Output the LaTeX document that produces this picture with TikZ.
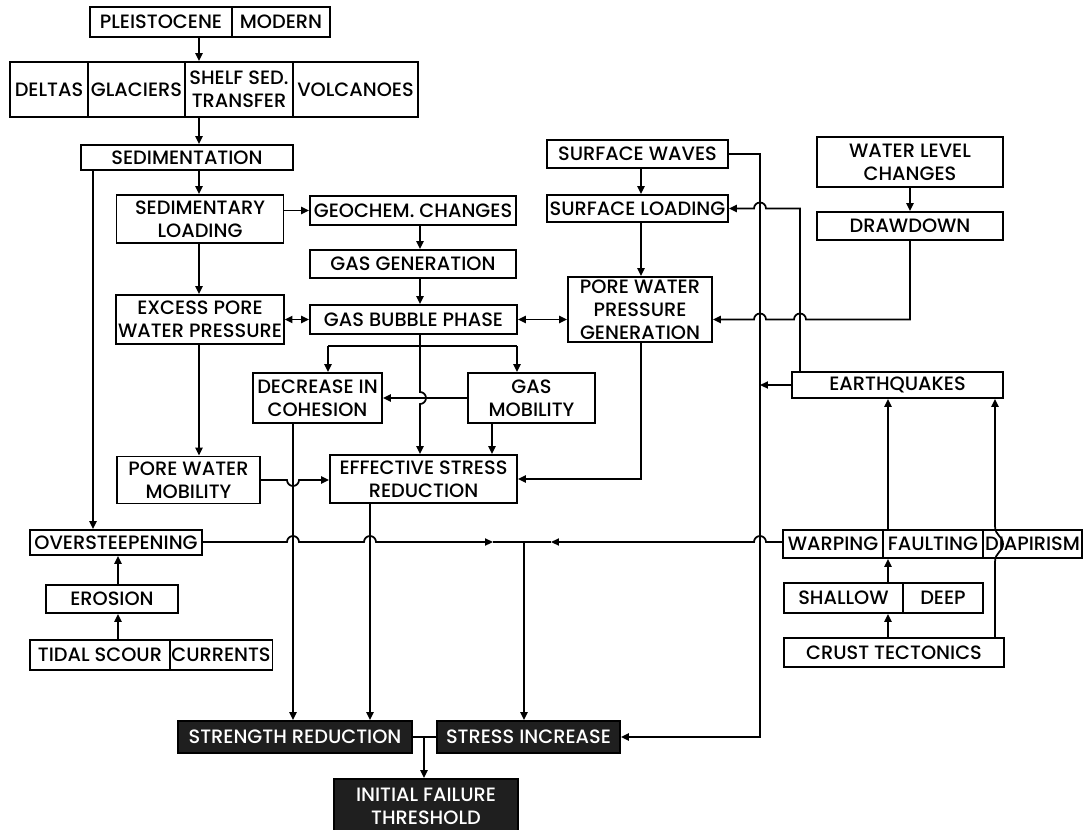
\documentclass[tikz,border=0pt]{standalone}
\usepackage{fontspec}
\setmainfont{Poppins}[UprightFont={* Medium}]
\usetikzlibrary{arrows.meta,calc}

\begin{document}
\begin{tikzpicture}[x=0.02cm, y=-0.02cm, line width=1pt,
    >={Triangle[length=4.5pt,width=4pt]},
    box/.style={draw, align=center, inner sep=1pt, font=\fontsize{11}{13.2}\selectfont},
    wh/.style 2 args={minimum width=#1*0.02cm, minimum height=#2*0.02cm},
    dark/.style={box, fill=black!88, text=white}]
    \useasboundingbox (0,0) rectangle (1086,829);
    \node[box, wh={142}{30}] (pl) at (161, 22) {PLEISTOCENE};
    \node[box, wh={98}{30}] (mo) at (281, 22) {MODERN};
    \node[box, wh={78}{55}] (de) at (49, 89.5) {DELTAS};
    \node[box, wh={97}{55}] (gl) at (136.5, 89.5) {GLACIERS};
    \node[box, wh={108}{55}] (sh) at (239, 89.5) {SHELF SED.\\TRANSFER};
    \node[box, wh={125}{55}] (vo) at (355.5, 89.5) {VOLCANOES};
    \node[box, wh={212}{25}] (sed) at (187, 157.5) {SEDIMENTATION};
    \node[box, wh={167}{48}] (sl) at (200, 219) {SEDIMENTARY\\LOADING};
    \node[box, wh={206}{29}] (ge) at (413, 210.5) {GEOCHEM. CHANGES};
    \node[box, wh={206}{28}] (gg) at (413, 264) {GAS GENERATION};
    \node[box, wh={207}{29}] (gb) at (413.5, 319.5) {GAS BUBBLE PHASE};
    \node[box, wh={166}{49}] (ep) at (200, 319.5) {EXCESS PORE\\WATER PRESSURE};
    \node[box, wh={144}{65}] (pg) at (640, 309.5) {PORE WATER\\PRESSURE\\GENERATION};
    \node[box, wh={181}{28}] (sw) at (637.5, 154) {SURFACE WAVES};
    \node[box, wh={181}{27}] (sld) at (637.5, 208.5) {SURFACE LOADING};
    \node[box, wh={186}{50}] (wl) at (910, 162) {WATER LEVEL\\CHANGES};
    \node[box, wh={186}{28}] (dd) at (910, 226) {DRAWDOWN};
    \node[box, wh={129}{50}] (dc) at (317.5, 398) {DECREASE IN\\COHESION};
    \node[box, wh={127}{50}] (gm) at (531.5, 398) {GAS\\MOBILITY};
    \node[box, wh={143}{47}] (pm) at (188.5, 480) {PORE WATER\\MOBILITY};
    \node[box, wh={187}{48}] (esr) at (423.5, 479) {EFFECTIVE STRESS\\REDUCTION};
    \node[box, wh={211}{26}] (eq) at (897.5, 385) {EARTHQUAKES};
    \node[box, wh={172}{25}] (os) at (116, 542.5) {OVERSTEEPENING};
    \node[box, wh={132}{28}] (er) at (112, 599) {EROSION};
    \node[box, wh={140}{30}] (ts) at (100, 655) {TIDAL SCOUR};
    \node[box, wh={102}{30}] (cu) at (221, 655) {CURRENTS};
    \node[box, wh={100}{28}] (wa) at (833, 544) {WARPING};
    \node[box, wh={100}{28}] (fa) at (933, 544) {FAULTING};
    \node[box, wh={99}{28}] (di) at (1032.5, 544) {DIAPIRISM};
    \node[box, wh={119}{30}] (shl) at (843.5, 598) {SHALLOW};
    \node[box, wh={80}{30}] (dp) at (943, 598) {DEEP};
    \node[box, wh={220}{29}] (ct) at (894, 652.5) {CRUST TECTONICS};
    \node[dark, wh={234}{32}] (sr) at (295, 737) {STRENGTH REDUCTION};
    \node[dark, wh={183}{32}] (si) at (528.5, 737) {STRESS INCREASE};
    \node[dark, wh={184}{54}] (ift) at (426, 806) {INITIAL FAILURE\\THRESHOLD};
    \coordinate (k1) at (199, 0);
    \coordinate (k2) at (93, 0);
    \coordinate (k3) at (420, 0);
    \coordinate (k4) at (492, 0);
    \coordinate (k5) at (641, 0);
    \coordinate (k6) at (760, 0);
    \coordinate (k7) at (800, 0);
    \coordinate (k8) at (888, 0);
    \coordinate (k9) at (995, 0);
    \coordinate (k10) at (118, 0);
    \coordinate (k11) at (293, 0);
    \coordinate (k12) at (370, 0);
    \coordinate (k13) at (424, 0);
    \coordinate (bl) at (328, 346);
    \coordinate (bR) at (517, 346);
    \coordinate (jn) at (524, 542);
    \coordinate (ja) at (493, 542);
    \coordinate (jb) at (551, 542);
    \draw [->] (pl.south -| k1) to (sh.north -| k1);
    \draw [->] (sh.south -| k1) to (sed.north -| k1);
    \draw [->] (sed.south -| k1) to (sl.north -| k1);
    \draw [->] (sl.south -| k1) to (ep.north -| k1);
    \draw [->] (ep.south -| k1) to (pm.north -| k1);
    \draw [->] (sed.south -| k2) to (os.north -| k2);
    \draw [->] (sl.east |- ge.west) to (ge.west);
    \draw [->] (ge.south -| k3) to (gg.north -| k3);
    \draw [->] (gg.south -| k3) to (gb.north -| k3);
    \draw [<->] (ep.east |- gb.west) to (gb.west);
    \draw [<->] (gb.east) to (gb.east -| pg.west);
    \draw (bl) -- (bR);
    \draw [->] (bl) -- (bl |- dc.north);
    \draw [->] (bR) -- (bR |- gm.north);
    \draw [->] (gb.south -| k3) -- ($(gm.west -| k3)+(0,-6)$) arc[start angle=90, end angle=-90, radius=0.12cm] -- (esr.north -| k3);
    \draw [->] (gm.west) to (gm.west -| dc.east);
    \draw [->] (gm.south -| k4) to (esr.north -| k4);
    \draw [->] (pg.south -| k5) |- (esr.east);
    \draw [->] (sw.south -| k5) to (sld.north -| k5);
    \draw [->] (sld.south -| k5) to (pg.north -| k5);
    \draw [->] (wl) to (dd);
    \draw [->] (sw.east) -| (k6 |- si.east) -- (si.east);
    \draw [->] (eq.west) to (eq.west -| k6);
    \draw [->] (eq.north -| k7) -- (k7 |- sld.east) -- ($(k6 |- sld.east)+(6,0)$) arc[start angle=0, end angle=180, radius=0.12cm] -- (sld.east);
    \draw [->] (dd.south) -- (dd.south |- gb.east) -- ($(k7 |- gb.east)+(6,0)$) arc[start angle=0, end angle=180, radius=0.12cm] -- ($(k6 |- gb.east)+(6,0)$) arc[start angle=0, end angle=180, radius=0.12cm] -- (pg.east |- gb.east);
    \draw [->] (ct.north -| k8) to (shl.south -| k8);
    \draw [->] (shl.north -| k8) to (fa.south -| k8);
    \draw [->] (fa.north -| k8) to (eq.south -| k8);
    \coordinate (dq) at (di.center -| k9);
    \draw [->] (ct.north -| k9) -- ($(dq)+(0,18)$) .. controls ($(dq)+(0,8)$) and ($(dq)+(8,8)$) .. ($(dq)+(8,0)$) .. controls ($(dq)+(8,-8)$) and ($(dq)+(0,-8)$) .. ($(dq)+(0,-18)$) -- (eq.south -| k9);
    \draw [->] (ts.north -| k10) to (er.south -| k10);
    \draw [->] (er.north -| k10) to (os.south -| k10);
    \draw [->] (os.east |- jn) -- ($(k11 |- jn)+(-6,0)$) arc[start angle=180, end angle=0, radius=0.12cm] -- ($(k12 |- jn)+(-6,0)$) arc[start angle=180, end angle=0, radius=0.12cm] -- (ja);
    \draw (ja) -- (jn);
    \draw [->] (wa.west |- jn) -- ($(k6 |- jn)+(6,0)$) arc[start angle=0, end angle=180, radius=0.12cm] -- (jb);
    \draw (jb) -- (jn);
    \draw [->] (jn) to (jn |- si.north);
    \draw [->] (dc.south -| k11) to (sr.north -| k11);
    \draw [->] (esr.south -| k12) to (sr.north -| k12);
    \draw [->] (pm.east) -- ($(pm.east -| k11)+(-6,0)$) arc[start angle=180, end angle=360, radius=0.12cm] -- (pm.east -| esr.west);
    \draw (sr.east) -- (si.west);
    \draw [->] (sr.east -| k13) to (ift.north -| k13);
\end{tikzpicture}
\end{document}
